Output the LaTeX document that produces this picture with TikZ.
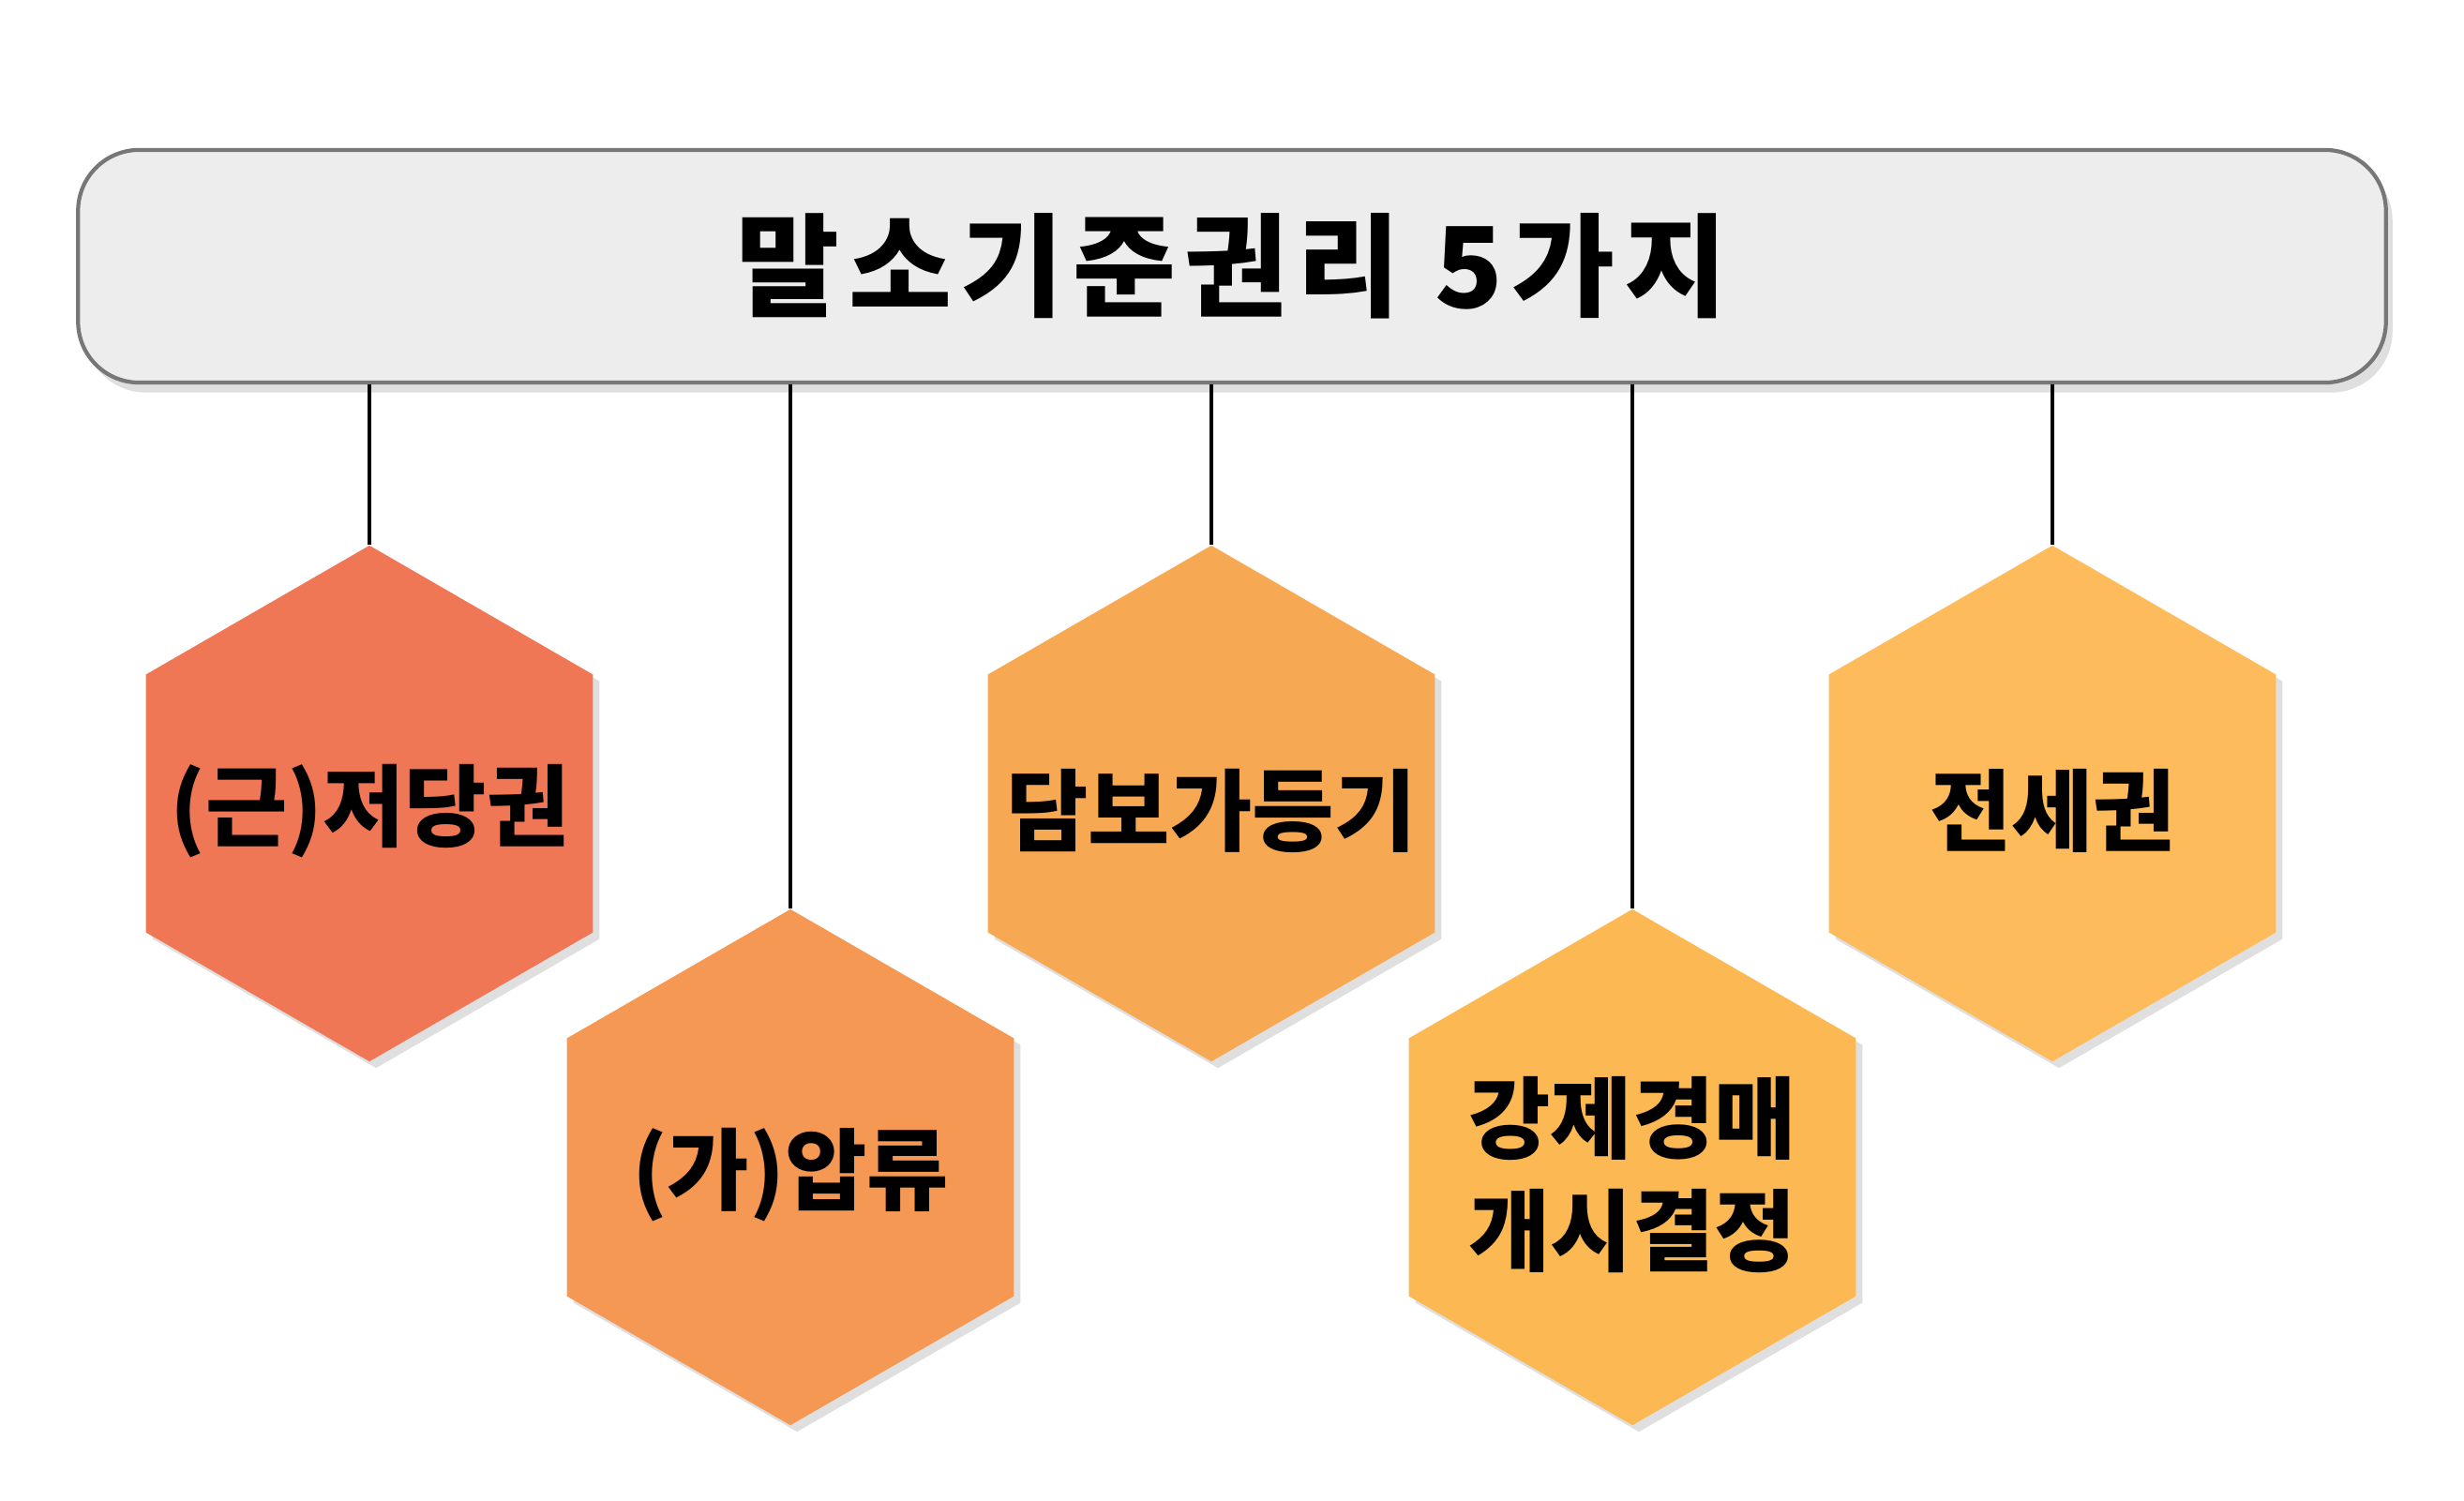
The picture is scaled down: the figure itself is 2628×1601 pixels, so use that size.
\documentclass[tikz,border=0pt]{standalone}
\usepackage{fontspec}
\setmainfont{Noto Sans CJK KR}
\usetikzlibrary{shapes.geometric,shadows}
\definecolor{hexA}{HTML}{F07756}
\definecolor{hexB}{HTML}{F49854}
\definecolor{hexC}{HTML}{F7A852}
\definecolor{hexD}{HTML}{FCB852}
\definecolor{hexE}{HTML}{FDBB5B}
\definecolor{titleFill}{HTML}{EDEDED}
\definecolor{titleLine}{HTML}{777777}
\begin{document}
\begin{tikzpicture}
[x=0.01cm,y=-0.01cm,%
  lineHang/.style={-,line width=0.9pt,black},%
  nodeTitle/.style={shape=rectangle,rounded corners=0.65cm,draw=titleLine,line width=1.2pt,
    fill=titleFill,minimum width=24.6cm,minimum height=2.48cm,inner sep=0pt,
    font=\bfseries\fontsize{34}{40}\selectfont\addfontfeature{LetterSpace=8},
    drop shadow={opacity=0.25,shadow xshift=2pt,shadow yshift=-3pt}},%
  nodeHexagon/.style={shape=regular polygon,regular polygon sides=6,shape border rotate=30,
    minimum size=5.5cm,inner sep=0pt,draw=none,
    drop shadow={opacity=0.25,shadow xshift=2pt,shadow yshift=-2pt}},%
  nodeLabel/.style={align=center,inner sep=0pt,
    font=\bfseries\fontsize{27}{34}\selectfont}]
\useasboundingbox (0,0) rectangle (2628,1601);
%% title
\node (title) at (1314,284) [nodeTitle] {말소기준권리 5가지};
%% hexagons
\foreach \nodename/\x/\y/\col/\txt in {h1/394/857/hexA/{(근)저당권},
  h2/843/1245/hexB/{(가)압류}, h3/1292/857/hexC/{담보가등기},
  h4/1741/1245/hexD/{강제경매\\개시결정}, h5/2189/857/hexE/{전세권}}
{
  \node (\nodename) at (\x,\y) [nodeHexagon,fill=\col] {};
  \node (\nodename-t) at (\x,\y+8) [nodeLabel] {\txt};
}
%% hanging lines
\foreach \nodename in {h1,h2,h3,h4,h5}
{
  \draw[lineHang] (title.south -| \nodename.north) -- (\nodename.north);
}
\end{tikzpicture}
\end{document}
